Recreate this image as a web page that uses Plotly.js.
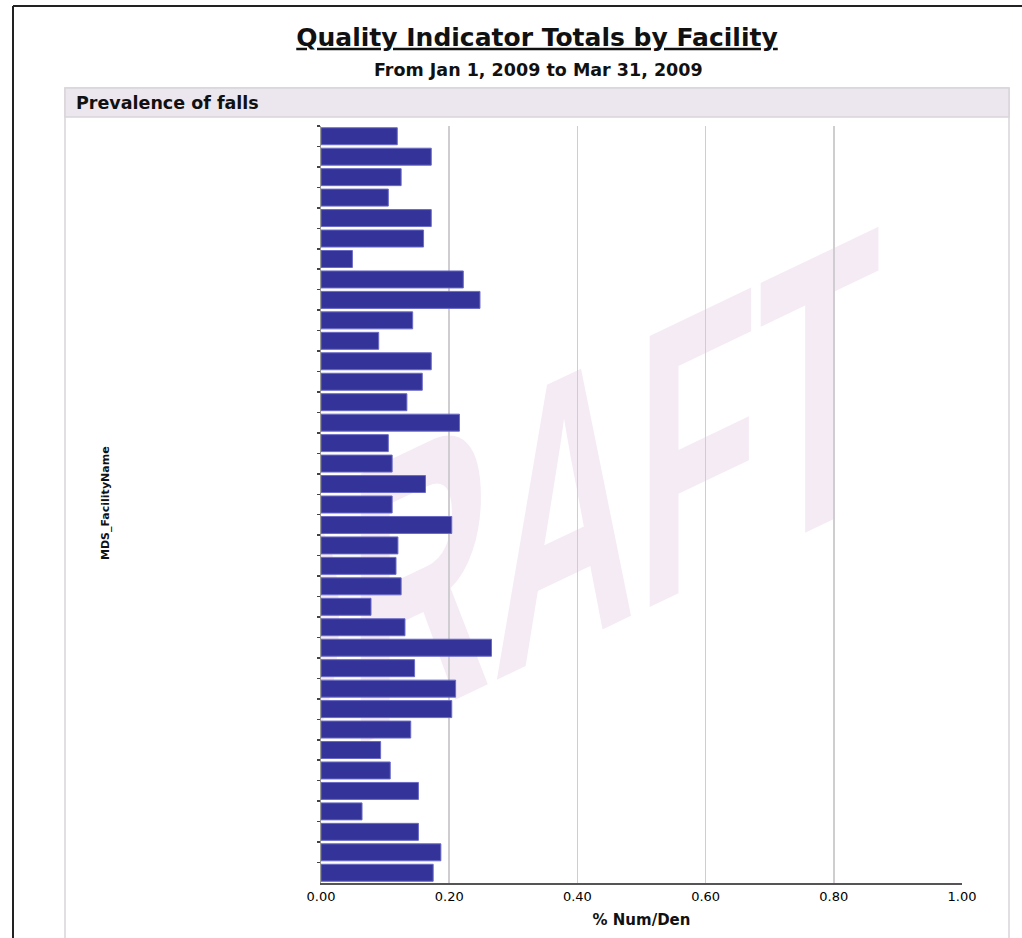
<!DOCTYPE html>
<html>
<head>
<meta charset="utf-8">
<script src="https://cdn.plot.ly/plotly-3.0.1.min.js"></script>
<style>
  html, body { margin: 0; padding: 0; background: #ffffff; }
  #wrap { position: relative; width: 1022px; height: 938px; overflow: hidden; }
  #wm { position: absolute; left: 0; top: 0; z-index: 0; }
  #chart { position: absolute; left: 0; top: 0; width: 1022px; height: 938px; z-index: 1; }
</style>
</head>
<body>
<div id="wrap">
  <svg id="wm" width="1022" height="938" xmlns="http://www.w3.org/2000/svg">
    <defs>
      <clipPath id="plotclip"><rect x="321" y="126" width="641" height="757"/></clipPath>
    </defs>
    <g clip-path="url(#plotclip)">
      <text transform="translate(203,820) skewY(-25.5) scale(1,1.97)" x="0" y="0"
            font-family="Liberation Sans, Arial, sans-serif" font-weight="bold" font-size="200"
            fill="#f5ebf4">DRAFT</text>
    </g>
  </svg>
  <div id="chart"></div>
</div>
<script>
// ---- data ----
const facilities = [
  "Facility 01","Facility 02","Facility 03","Facility 04","Facility 05","Facility 06",
  "Facility 07","Facility 08","Facility 09","Facility 10","Facility 11","Facility 12",
  "Facility 13","Facility 14","Facility 15","Facility 16","Facility 17","Facility 18",
  "Facility 19","Facility 20","Facility 21","Facility 22","Facility 23","Facility 24",
  "Facility 25","Facility 26","Facility 27","Facility 28","Facility 29","Facility 30",
  "Facility 31","Facility 32","Facility 33","Facility 34","Facility 35","Facility 36",
  "Facility 37"
];
const pctNumDen = [
  0.119, 0.172, 0.125, 0.105, 0.172, 0.160, 0.049, 0.222, 0.248, 0.143,
  0.090, 0.172, 0.158, 0.134, 0.216, 0.105, 0.111, 0.163, 0.111, 0.204,
  0.120, 0.117, 0.125, 0.078, 0.131, 0.266, 0.146, 0.210, 0.204, 0.140,
  0.093, 0.108, 0.152, 0.064, 0.152, 0.187, 0.175
];
const xTickVals = [0, 0.2, 0.4, 0.6, 0.8, 1.0];
const chartTitle = "Quality Indicator Totals by Facility";
const subTitle = "From Jan 1, 2009 to Mar 31, 2009";
const panelTitle = "Prevalence of falls";
const xTitle = "% Num/Den";
const yTitle = "MDS_FacilityName";

// ---- layout helpers (pixel -> paper) ----
const W = 1022, H = 938;
const PL = 321, PR = 962, PT = 126, PB = 883;
const px = v => (v - PL) / (PR - PL);
const py = v => (PB - v) / (PB - PT);

const trace = {
  type: "bar",
  orientation: "h",
  x: pctNumDen,
  y: facilities,
  marker: { color: "#333399", line: { color: "#6a6ac6", width: 1 } },
  hoverinfo: "x+y"
};

const F = "DejaVu Sans, Verdana, sans-serif";

const layout = {
  width: W, height: H,
  margin: { l: PL, r: W - PR, t: PT, b: H - PB, pad: 0 },
  paper_bgcolor: "rgba(0,0,0,0)",
  plot_bgcolor: "rgba(0,0,0,0)",
  showlegend: false,
  bargap: 0.17,
  title: {
    text: '<span style="text-decoration:underline">' + chartTitle + '</span>',
    font: { family: F, size: 25, color: "#111111", weight: "bold" },
    x: 537 / W, xref: "container", xanchor: "center",
    y: 1 - 37 / H, yref: "container", yanchor: "middle"
  },
  xaxis: {
    range: [0, 1],
    tickvals: xTickVals,
    tickformat: ".2f",
    ticks: "",
    showgrid: true,
    gridcolor: "#d0cdd0",
    gridwidth: 1.5,
    zeroline: false,
    showline: true,
    linecolor: "#555555",
    linewidth: 2,
    tickfont: { family: F, size: 13, color: "#000000" },
    title: { text: "<b>" + xTitle + "</b>", font: { family: F, size: 15, color: "#111111" }, standoff: 12 },
    fixedrange: true
  },
  yaxis: {
    type: "category",
    autorange: "reversed",
    showticklabels: false,
    ticks: "outside",
    ticklen: 3,
    tickwidth: 1.5,
    tickcolor: "#444444",
    tickson: "boundaries",
    showgrid: false,
    zeroline: false,
    showline: true,
    linecolor: "#999999",
    linewidth: 1,
    fixedrange: true
  },
  shapes: [
    // outer frame
    { type: "line", xref: "paper", yref: "paper", x0: px(13), x1: px(1024), y0: py(6), y1: py(6),
      line: { color: "#222222", width: 2 }, layer: "below" },
    { type: "line", xref: "paper", yref: "paper", x0: px(13), x1: px(13), y0: py(6), y1: py(945),
      line: { color: "#222222", width: 2 }, layer: "below" },
    // panel border
    { type: "rect", xref: "paper", yref: "paper", x0: px(65), x1: px(1009), y0: py(88), y1: py(950),
      line: { color: "#d9d5d9", width: 1.5 }, fillcolor: "rgba(0,0,0,0)", layer: "below" },
    // panel header
    { type: "rect", xref: "paper", yref: "paper", x0: px(65), x1: px(1009), y0: py(88), y1: py(117),
      line: { color: "#d9d5d9", width: 1.5 }, fillcolor: "#ece6ee", layer: "below" }
  ],
  annotations: [
    { text: "<b>" + subTitle + "</b>", xref: "paper", yref: "paper", x: px(538), y: py(70),
      xanchor: "center", yanchor: "middle", showarrow: false,
      font: { family: F, size: 17.5, color: "#111111" } },
    { text: "<b>" + panelTitle + "</b>", xref: "paper", yref: "paper", x: px(74), y: py(103),
      xanchor: "left", yanchor: "middle", showarrow: false,
      font: { family: F, size: 17.5, color: "#111111" } },
    { text: "<b>" + yTitle + "</b>", xref: "paper", yref: "paper", x: px(105), y: py(503),
      xanchor: "center", yanchor: "middle", textangle: -90, showarrow: false,
      font: { family: F, size: 11, color: "#111111" } }
  ]
};

Plotly.newPlot("chart", [trace], layout, { displayModeBar: false, staticPlot: true });
</script>
</body>
</html>
